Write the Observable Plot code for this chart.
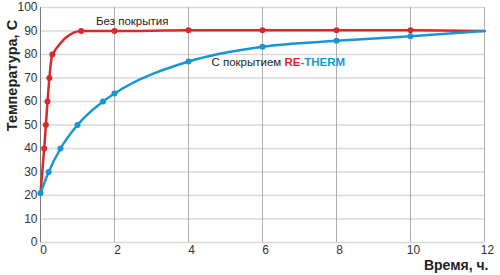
<!DOCTYPE html>
<html>
<head>
<meta charset="utf-8">
<script src="https://cdn.jsdelivr.net/npm/d3@7"></script>
<script src="https://cdn.jsdelivr.net/npm/@observablehq/plot@0.6"></script>
<style>
  html, body { margin: 0; padding: 0; background: #fff; }
  #chart svg { display: block; }
</style>
</head>
<body>
<div id="chart"></div>
<script>
// Data
const redX = [0, 0.1, 0.146, 0.19, 0.24, 0.32, 1.1, 2, 4, 6, 8, 10, 12];
const redY = [21, 40, 50, 60, 70, 80, 90, 90, 90.3, 90.3, 90.3, 90.3, 90];
const blueX = [0, 0.22, 0.54, 1.0, 1.69, 2, 4, 6, 8, 10, 12];
const blueY = [21, 30, 40, 50, 60, 63.4, 77, 83.3, 85.8, 87.8, 90];
const xTicks = [0, 2, 4, 6, 8, 10, 12];
const yTicks = [0, 10, 20, 30, 40, 50, 60, 70, 80, 90, 100];
const labelRed = "Без покрытия";
const labelBlue = "С покрытием RE-THERM";
const xTitle = "Время, ч.";
const yTitle = "Температура, С";

const red = redX.map((x, i) => ({x, y: redY[i]}));
const blue = blueX.map((x, i) => ({x, y: blueY[i]}));
const RED = "#d8292b";
const BLUE = "#1a95d2";

const chart = Plot.plot({
  width: 500,
  height: 275,
  marginLeft: 40,
  marginRight: 16,
  marginTop: 7,
  marginBottom: 33,
  style: {fontFamily: "Liberation Sans, Arial, sans-serif", color: "#333", background: "#fff"},
  x: {domain: [0, 12]},
  y: {domain: [0, 100]},
  marks: [
    Plot.ruleY(yTicks, {stroke: "#d9d9d9", strokeWidth: 1.6}),
    Plot.ruleX(xTicks.filter(d => d > 0), {stroke: "#9a9a9a", strokeWidth: 0.8}),
    Plot.ruleX([0], {stroke: "#7a7a7a", strokeWidth: 1}),
    Plot.axisX(xTicks, {tickSize: 0, tickPadding: 3, fontSize: 12, dx: 3, label: null, fill: "#333"}),
    Plot.axisY(yTicks, {tickSize: 0, tickPadding: 3, fontSize: 12, label: null, fill: "#333"}),
    Plot.line(red, {x: "x", y: "y", stroke: RED, strokeWidth: 2.5, curve: "monotone-x"}),
    Plot.dot(red.filter(d => d.x > 0 && d.x < 12), {x: "x", y: "y", r: 3, fill: RED}),
    Plot.line(blue, {x: "x", y: "y", stroke: BLUE, strokeWidth: 2.5, curve: "monotone-x"}),
    Plot.dot(blue.filter(d => d.x < 12), {x: "x", y: "y", r: 3, fill: BLUE}),
    Plot.text([labelRed], {x: 1.5, y: 92.6, text: d => d, textAnchor: "start", lineAnchor: "bottom", fontSize: 11.5, fill: "#222"}),
    Plot.text([labelBlue], {x: 4.62, y: 75.2, text: d => d, textAnchor: "start", lineAnchor: "bottom", fontSize: 11.5, fill: "#222", className: "blue-label"}),
    Plot.text([xTitle], {frameAnchor: "bottom-right", text: d => d, dx: 4, dy: 27, textAnchor: "end", lineAnchor: "bottom", fontSize: 14, fontWeight: "bold", fill: "#222"}),
    Plot.text([yTitle], {frameAnchor: "top-left", text: d => d, rotate: -90, dx: -28, dy: 68, textAnchor: "middle", lineAnchor: "middle", fontSize: 14.5, fontWeight: "bold", fill: "#222"})
  ]
});

// mixed colours in the blue label
const t = chart.querySelector(".blue-label text");
if (t) {
  t.textContent = "";
  const parts = [["С покрытием ", "#222", "normal"], ["RE", RED, "bold"], ["-THERM", BLUE, "bold"]];
  for (const [s, c, w] of parts) {
    const ts = document.createElementNS("http://www.w3.org/2000/svg", "tspan");
    ts.textContent = s;
    ts.setAttribute("fill", c);
    ts.setAttribute("font-weight", w);
    t.appendChild(ts);
  }
}
document.getElementById("chart").appendChild(chart);
</script>
</body>
</html>
